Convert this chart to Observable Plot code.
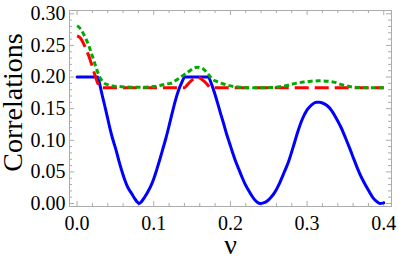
<!DOCTYPE html>
<html>
<head>
<meta charset="utf-8">
<script src="https://cdn.jsdelivr.net/npm/d3@7"></script>
<script src="https://cdn.jsdelivr.net/npm/@observablehq/plot@0.6"></script>
<style>
  html, body { margin: 0; padding: 0; background: #fff; }
</style>
</head>
<body>
<div id="chart"></div>
<script>
// ---- data ----
const blueNu  = [0.000,0.027,0.030,0.033,0.036,0.040,0.043,0.046,0.050,0.054,0.058,0.062,0.066,0.070,0.074,0.078,0.081,0.084,0.088,0.092,0.096,0.100,0.104,0.108,0.112,0.116,0.120,0.124,0.128,0.132,0.136,0.141,0.171,0.175,0.179,0.183,0.187,0.191,0.195,0.199,0.203,0.207,0.211,0.215,0.219,0.223,0.227,0.231,0.235,0.239,0.243,0.248,0.253,0.258,0.264,0.270,0.276,0.282,0.288,0.294,0.300,0.306,0.312,0.316,0.320,0.326,0.332,0.338,0.344,0.350,0.356,0.362,0.368,0.374,0.380,0.386,0.391,0.395,0.400];
const blueVal = [0.200,0.200,0.186,0.170,0.155,0.134,0.118,0.104,0.088,0.070,0.053,0.038,0.026,0.018,0.010,0.003,0.000,0.003,0.010,0.018,0.027,0.039,0.054,0.070,0.087,0.104,0.123,0.143,0.162,0.178,0.190,0.200,0.200,0.190,0.176,0.160,0.143,0.127,0.110,0.095,0.080,0.066,0.054,0.042,0.031,0.022,0.014,0.007,0.002,0.000,0.001,0.004,0.010,0.018,0.032,0.049,0.067,0.090,0.114,0.134,0.148,0.156,0.160,0.160,0.159,0.155,0.147,0.135,0.121,0.104,0.086,0.067,0.049,0.034,0.021,0.009,0.003,0.000,0.001];

const redNu  = [0.000,0.004,0.008,0.012,0.016,0.020,0.024,0.027,0.030,0.034,0.140,0.144,0.148,0.152,0.157,0.162,0.166,0.170,0.174,0.400];
const redVal = [0.265,0.262,0.254,0.243,0.231,0.216,0.200,0.190,0.184,0.183,0.183,0.188,0.193,0.197,0.200,0.197,0.193,0.188,0.183,0.183];

const greenNu  = [0.000,0.004,0.008,0.012,0.016,0.020,0.024,0.028,0.032,0.036,0.040,0.046,0.054,0.070,0.090,0.100,0.108,0.116,0.122,0.128,0.134,0.140,0.146,0.151,0.157,0.163,0.167,0.172,0.176,0.182,0.191,0.200,0.212,0.230,0.256,0.266,0.275,0.285,0.295,0.305,0.315,0.325,0.335,0.345,0.355,0.365,0.400];
const greenVal = [0.281,0.277,0.269,0.259,0.247,0.233,0.218,0.204,0.195,0.190,0.188,0.186,0.185,0.184,0.184,0.185,0.1866,0.189,0.190,0.194,0.199,0.204,0.209,0.213,0.2155,0.214,0.210,0.203,0.197,0.193,0.189,0.186,0.184,0.183,0.1835,0.185,0.187,0.190,0.192,0.1935,0.194,0.1935,0.192,0.188,0.185,0.1835,0.183];

const xMajor = [0, 0.1, 0.2, 0.3, 0.4];
const xMinor = [0.02,0.04,0.06,0.08,0.12,0.14,0.16,0.18,0.22,0.24,0.26,0.28,0.32,0.34,0.36,0.38];
const yMajor = [0, 0.05, 0.10, 0.15, 0.20, 0.25, 0.30];
const yMinor = [0.01,0.02,0.03,0.04,0.06,0.07,0.08,0.09,0.11,0.12,0.13,0.14,0.16,0.17,0.18,0.19,0.21,0.22,0.23,0.24,0.26,0.27,0.28,0.29];

const xLabel = "ν";
const yLabel = "Correlations";

// ---- tables ----
const blue = blueNu.map((x, i) => ({x, y: blueVal[i]}));
const red = redNu.map((x, i) => ({x, y: redVal[i]}));
const green = greenNu.map((x, i) => ({x, y: greenVal[i]}));

const W = 399, H = 256;
const mL = 69, mR = 8, mT = 10, mB = 50;
const fw = W - mL - mR, fh = H - mT - mB;
const gray = "#ababab";
const serif = "Liberation Serif";
const fx = d3.format(".1f"), fy = d3.format(".2f");

const chart = Plot.plot({
  width: W, height: H,
  marginLeft: mL, marginRight: mR, marginTop: mT, marginBottom: mB,
  style: {background: "#fff", color: "#000", fontFamily: serif},
  x: {domain: [-0.0099, 0.4101], label: null, axis: null},
  y: {domain: [-0.0047, 0.3052], label: null, axis: null},
  marks: [
    Plot.frame({stroke: gray, strokeWidth: 1}),
    // bottom & top ticks
    Plot.ruleX(xMajor, {stroke: gray, insetTop: fh - 5}),
    Plot.ruleX(xMinor, {stroke: gray, insetTop: fh - 3}),
    Plot.ruleX(xMajor, {stroke: gray, insetBottom: fh - 5}),
    Plot.ruleX(xMinor, {stroke: gray, insetBottom: fh - 3}),
    // left & right ticks
    Plot.ruleY(yMajor, {stroke: gray, insetRight: fw - 5}),
    Plot.ruleY(yMinor, {stroke: gray, insetRight: fw - 3}),
    Plot.ruleY(yMajor, {stroke: gray, insetLeft: fw - 5}),
    Plot.ruleY(yMinor, {stroke: gray, insetLeft: fw - 3}),
    // tick labels
    Plot.text(xMajor, {x: d => d, text: d => fx(d), frameAnchor: "bottom", textAnchor: "middle", lineAnchor: "top", dy: 9, fill: "#000", fontFamily: serif, fontSize: 20}),
    Plot.text(yMajor, {y: d => d, text: d => fy(d), frameAnchor: "left", textAnchor: "end", lineAnchor: "middle", dx: -4, fill: "#000", fontFamily: serif, fontSize: 20}),
    // curves
    Plot.line(blue, {x: "x", y: "y", stroke: "#0000ff", strokeWidth: 3, curve: "monotone-x"}),
    Plot.line(red, {x: "x", y: "y", stroke: "#ff0000", strokeWidth: 3, strokeDasharray: "14,6", strokeLinecap: "butt", curve: "monotone-x"}),
    Plot.line(green, {x: "x", y: "y", stroke: "#00aa00", strokeWidth: 3, strokeDasharray: "5,3", strokeLinecap: "butt", curve: "monotone-x"}),
    // axis titles
    Plot.text([yLabel], {frameAnchor: "left", textAnchor: "middle", lineAnchor: "middle", dx: -56, dy: -6, rotate: -90, fontSize: 28, fontFamily: serif, fill: "#000"}),
    Plot.text([xLabel], {frameAnchor: "bottom", textAnchor: "middle", lineAnchor: "bottom", dy: 47, fontSize: 28, fontFamily: serif, fill: "#000"})
  ]
});
document.getElementById("chart").appendChild(chart);
</script>
</body>
</html>
